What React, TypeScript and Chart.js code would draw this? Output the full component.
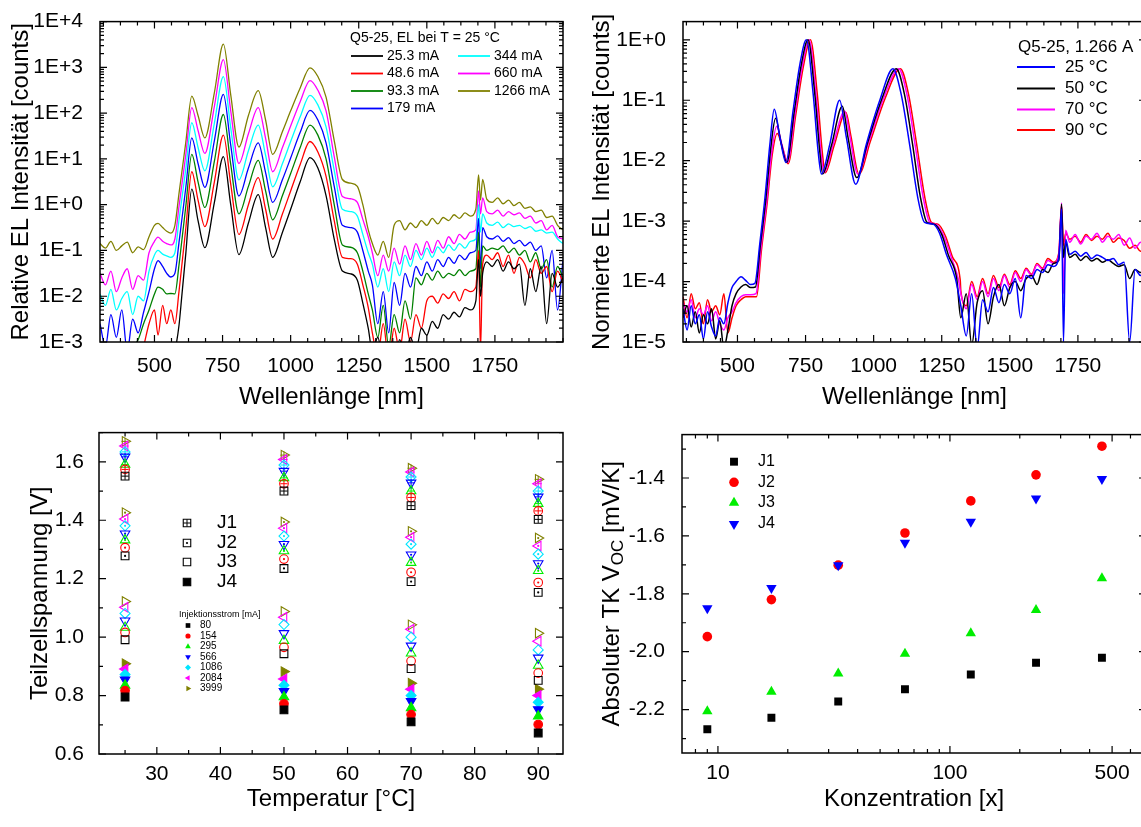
import React, { useEffect, useRef } from 'react';
import { Chart, registerables } from 'chart.js';

Chart.register(...registerables);

const FONT = '"Liberation Sans", Arial, Helvetica, sans-serif';
Chart.defaults.font.family = FONT;
Chart.defaults.color = '#000';

// ================= Top-left: relative EL spectra at 25 °C (log10 of intensity) =================
const TL_WL = [300, 320, 340, 360, 380, 400, 420, 440, 460, 480, 500, 513, 530, 545, 560, 575,
  590, 600, 615, 637, 660, 685, 720, 753, 780, 810, 845, 881, 908, 934, 970, 1000, 1035, 1071, 1100, 1130, 1160, 1190, 1220, 1245, 1265, 1285,
  1300, 1320, 1340, 1360, 1380, 1400, 1420, 1440, 1460, 1480, 1500, 1520, 1540, 1560, 1580, 1600, 1620, 1640, 1660, 1680, 1690, 1697, 1705,
  1720, 1740, 1760, 1780, 1800, 1820, 1840, 1860, 1880, 1900, 1920, 1940, 1960, 1980, 2000];

const TL_LOG_25_3 = [-3.5, -3.5, -3.5, -3.5, -3.5, -3.5, -3.5, -3.5, -3.5, -3.5, -3.5, -3.5, -3.5, -3.5, -3.5, -3.2,
  -2.64, -2.02, -1.07, 0.34, -0.35, -0.94, 0.05, 1.05, 0.0, -1.09, -0.4, 0.22, -0.5, -1.15, -0.6, -0.1, 0.5, 1.03, 0.8, 0.2, -0.75, -1.45, -1.51, -1.65, -2.15, -2.7,
  -3.2, -2.9, -3.4, -3.0, -3.5, -2.95, -3.3, -2.9, -3.2, -2.7, -2.85, -2.55, -2.7, -2.4, -2.5, -2.35, -2.45, -2.25, -2.3, -2.1, -1.2, -2.0, -1.5,
  -1.25, -1.35, -1.2, -1.45, -1.25, -1.4, -1.3, -2.2, -1.4, -1.9, -1.35, -2.6, -1.5, -1.8, -1.6];
const TL_LOG_48_6 = [-3.5, -3.5, -3.5, -3.5, -3.5, -3.5, -3.5, -3.5, -3.1, -2.6, -2.3, -2.85, -2.2, -2.6, -2.3, -2.6,
  -1.9, -1.35, -0.52, 0.72, 0.1, -0.48, 0.5, 1.52, 0.45, -0.65, 0.0, 0.59, -0.1, -0.75, -0.2, 0.3, 0.88, 1.38, 1.15, 0.62, -0.35, -1.15, -1.18, -1.3, -1.75, -2.25,
  -2.8, -3.3, -2.6, -3.4, -2.7, -3.2, -2.5, -3.0, -2.4, -2.7, -2.1, -2.0, -2.15, -1.95, -2.05, -1.9, -2.1, -1.85, -1.9, -1.8, -1.0, -3.2, -1.3,
  -1.1, -1.2, -1.05, -1.35, -1.1, -1.5, -1.15, -1.3, -1.6, -1.2, -1.5, -1.35, -1.9, -1.45, -1.7];
const TL_LOG_93_3 = [-3.5, -3.4, -3.3, -3.5, -3.2, -3.4, -3.1, -2.95, -2.6, -2.3, -1.95, -1.8, -1.85, -1.95, -1.94, -1.95,
  -1.32, -0.81, -0.04, 1.1, 0.5, -0.06, 0.95, 1.97, 0.88, -0.2, 0.4, 0.97, 0.3, -0.33, 0.2, 0.68, 1.25, 1.74, 1.52, 1.0, 0.0, -0.88, -0.93, -1.05, -1.45, -1.95,
  -2.3, -2.9, -2.2, -3.1, -2.4, -2.8, -2.1, -2.5, -1.6, -1.75, -1.5, -1.65, -1.45, -1.6, -1.5, -1.55, -1.42, -1.55, -1.45, -1.4, -0.6, -1.8, -0.9,
  -1.0, -0.95, -0.98, -0.9, -1.05, -0.95, -1.1, -1.0, -1.25, -1.05, -1.4, -1.2, -1.8, -1.35, -1.6];
const TL_LOG_179 = [-2.6, -3.1, -2.4, -2.9, -2.3, -3.2, -2.5, -2.8, -2.35, -1.9, -1.4, -1.22, -1.35, -1.5, -1.58, -1.5,
  -0.83, -0.35, 0.37, 1.46, 0.9, 0.38, 1.4, 2.41, 1.3, 0.19, 0.8, 1.35, 0.7, 0.05, 0.55, 1.02, 1.58, 2.06, 1.85, 1.35, 0.4, -0.45, -0.5, -0.6, -1.0, -1.45,
  -1.75, -2.6, -1.9, -2.8, -1.7, -2.2, -1.5, -1.8, -1.35, -1.55, -1.25, -1.45, -1.2, -1.35, -1.15, -1.28, -1.1, -1.2, -1.05, -1.0, -0.3, -1.4, -0.5,
  -0.7, -0.75, -0.68, -0.8, -0.72, -0.85, -0.78, -0.9, -0.82, -1.0, -0.9, -1.6, -1.0, -2.3, -1.2];
const TL_LOG_344 = [-1.95, -2.2, -1.85, -2.3, -2.05, -1.9, -2.4, -2.0, -2.1, -1.45, -1.1, -1.0, -1.08, -1.12, -1.15, -1.05,
  -0.34, 0.11, 0.78, 1.79, 1.25, 0.74, 1.78, 2.8, 1.68, 0.54, 1.18, 1.74, 1.08, 0.39, 0.9, 1.38, 1.92, 2.39, 2.18, 1.7, 0.75, -0.1, -0.15, -0.25, -0.65, -1.05,
  -1.3, -1.8, -1.4, -1.9, -1.25, -1.55, -1.1, -1.35, -1.0, -1.2, -0.95, -1.15, -0.92, -1.05, -0.88, -1.0, -0.85, -0.95, -0.8, -0.75, 0.0, -0.6, -0.2,
  -0.4, -0.45, -0.38, -0.5, -0.42, -0.48, -0.45, -0.52, -0.48, -0.58, -0.55, -0.62, -0.6, -0.75, -0.85];
const TL_LOG_660 = [-1.5, -1.75, -1.45, -1.9, -1.6, -1.4, -1.85, -1.55, -1.65, -1.05, -0.8, -0.71, -0.8, -0.85, -0.88, -0.75,
  -0.04, 0.41, 1.09, 2.12, 1.62, 1.12, 2.15, 3.17, 2.05, 0.9, 1.55, 2.12, 1.45, 0.72, 1.25, 1.72, 2.25, 2.71, 2.5, 2.05, 1.05, 0.18, 0.13, 0.05, -0.32, -0.7,
  -1.05, -1.55, -1.1, -1.45, -0.95, -1.3, -0.9, -1.2, -0.85, -1.1, -0.8, -1.05, -0.78, -0.95, -0.7, -0.85, -0.65, -0.75, -0.6, -0.55, 0.3, -0.2, 0.15,
  -0.15, -0.2, -0.12, -0.25, -0.15, -0.22, -0.18, -0.3, -0.25, -0.4, -0.35, -0.55, -0.45, -0.7, -0.75];
const TL_LOG_1266 = [-0.85, -0.95, -0.8, -1.0, -0.9, -0.82, -1.05, -0.92, -0.98, -0.7, -0.45, -0.41, -0.5, -0.58, -0.62, -0.45,
  0.24, 0.69, 1.36, 2.37, 1.95, 1.46, 2.45, 3.51, 2.4, 1.26, 1.95, 2.49, 1.85, 1.1, 1.6, 2.05, 2.55, 2.99, 2.8, 2.35, 1.4, 0.55, 0.47, 0.4, 0.0, -0.55,
  -0.85, -1.1, -0.8, -1.15, -0.45, -0.35, -0.55, -0.4, -0.5, -0.35, -0.45, -0.3, -0.42, -0.28, -0.35, -0.22, -0.3, -0.18, -0.25, -0.1, 0.65, 0.1, 0.55,
  0.12, 0.05, 0.15, 0.02, 0.1, -0.02, 0.05, -0.08, -0.05, -0.15, -0.12, -0.28, -0.25, -0.45, -0.55];

const TL_LABELS = ['25.3 mA', '48.6 mA', '93.3 mA', '179 mA', '344 mA', '660 mA', '1266 mA'];
const TL_COLORS = ['#000000', '#ff0000', '#008000', '#0000ff', '#00ffff', '#ff00ff', '#808000'];
const TL_SERIES = [TL_LOG_25_3, TL_LOG_48_6, TL_LOG_93_3, TL_LOG_179, TL_LOG_344, TL_LOG_660, TL_LOG_1266];

// ================= Top-right: normalised EL spectra at 1.266 A (log10) =================
const TR_WL_LEFT = [300, 315, 330, 345, 360, 375, 390, 405, 420, 435, 450, 465, 480, 495, 513, 530, 548];
const TR_WL_RIGHT = [1320, 1340, 1360, 1380, 1400, 1420, 1440, 1460, 1480, 1500, 1520, 1540, 1560, 1580, 1600, 1620, 1640, 1660, 1680,
  1690, 1697, 1705, 1720, 1740, 1760, 1780, 1800, 1820, 1840, 1860, 1880, 1900, 1920, 1940, 1960, 1980, 2000];

const TR_WL_25 = [564, 582, 601, 619, 635, 656, 678, 704, 729, 753, 778, 796, 808, 839, 875, 900, 934, 973, 1022, 1071, 1101, 1132, 1162, 1187, 1218, 1242, 1267, 1300];
const TR_WL_50 = [566, 584, 604, 622, 640, 660, 681, 708, 734, 759, 784, 802, 813, 845, 885, 906, 938, 978, 1030, 1083, 1113, 1143, 1172, 1196, 1222, 1250, 1275, 1305];
const TR_WL_70 = [568, 586, 607, 625, 644, 664, 684, 711, 738, 763, 788, 806, 818, 850, 894, 912, 942, 983, 1037, 1092, 1122, 1152, 1182, 1206, 1228, 1258, 1285, 1312];
const TR_WL_90 = [570, 588, 609, 627, 646, 666, 686, 714, 742, 768, 793, 811, 822, 855, 898, 916, 946, 988, 1043, 1098, 1128, 1158, 1188, 1212, 1236, 1264, 1290, 1318];

const TR_MID_25 = [-4.03, -3.37, -2.61, -1.73, -1.15, -1.62, -2.03, -1.18, -0.41, 0.0, -0.9, -1.84, -2.22, -1.73, -1.0, -1.62, -2.39, -1.73, -1.01, -0.48, -0.9, -1.73, -2.61, -3.02, -3.05, -3.2, -3.55, -3.95];
const TR_MID_50 = [-4.09, -3.4, -2.64, -1.8, -1.3, -1.7, -2.03, -1.2, -0.42, 0.0, -0.9, -1.84, -2.22, -1.75, -1.1, -1.62, -2.28, -1.7, -0.98, -0.48, -0.9, -1.73, -2.61, -3.02, -3.05, -3.22, -3.57, -3.95];
const TR_MID_70 = [-4.2, -3.45, -2.68, -1.88, -1.43, -1.75, -2.03, -1.22, -0.43, 0.0, -0.9, -1.84, -2.2, -1.75, -1.18, -1.58, -2.22, -1.68, -0.96, -0.48, -0.9, -1.73, -2.61, -3.02, -3.05, -3.25, -3.6, -3.98];
const TR_MID_90 = [-4.25, -3.48, -2.7, -1.92, -1.55, -1.8, -2.05, -1.24, -0.44, 0.0, -0.9, -1.84, -2.2, -1.75, -1.2, -1.58, -2.22, -1.68, -0.96, -0.48, -0.9, -1.73, -2.61, -3.02, -3.05, -3.25, -3.6, -3.98];

const TR_LEFT_25 = [-4.45, -4.8, -4.4, -4.7, -4.55, -4.95, -4.5, -4.75, -4.9, -4.6, -4.7, -4.35, -4.1, -4.0, -3.92, -3.98, -4.05];
const TR_LEFT_50 = [-4.6, -4.4, -4.75, -4.5, -4.85, -4.55, -4.7, -4.45, -4.95, -4.65, -5.1, -4.8, -4.4, -4.2, -4.09, -4.05, -4.1];
const TR_LEFT_70 = [-4.35, -4.5, -4.3, -4.6, -4.45, -4.55, -4.4, -4.65, -4.5, -4.7, -4.8, -4.6, -4.5, -4.35, -4.25, -4.22, -4.22];
const TR_LEFT_90 = [-4.25, -4.6, -4.2, -4.45, -4.35, -4.7, -4.3, -4.5, -4.4, -4.55, -4.2, -4.85, -4.6, -4.4, -4.3, -4.25, -4.25];

const TR_RIGHT_25 = [-4.4, -4.9, -4.2, -5.1, -4.3, -4.5, -4.1, -4.35, -4.05, -4.2, -3.95, -4.6, -3.9, -3.95, -3.8, -3.85, -3.72, -3.75, -3.6,
  -2.8, -5.0, -3.3, -3.55, -3.5, -3.58, -3.52, -3.62, -3.56, -3.6, -3.65, -3.62, -3.72, -3.68, -5.0, -3.8, -3.9, -3.85];
const TR_RIGHT_50 = [-4.6, -4.2, -5.05, -4.35, -4.15, -4.7, -4.25, -4.05, -4.4, -4.1, -4.0, -4.15, -3.95, -3.9, -4.05, -3.8, -3.85, -3.7, -3.65,
  -2.72, -3.6, -3.35, -3.6, -3.55, -3.65, -3.58, -3.66, -3.62, -3.68, -3.64, -3.7, -3.75, -3.72, -3.95, -3.8, -3.85, -3.82];
const TR_RIGHT_70 = [-4.2, -4.45, -4.05, -4.3, -4.0, -4.25, -3.95, -4.15, -3.9, -4.1, -3.85, -4.0, -3.8, -3.9, -3.72, -3.8, -3.65, -3.7, -3.55,
  -2.7, -4.2, -3.15, -3.35, -3.22, -3.38, -3.25, -3.3, -3.2, -3.35, -3.25, -3.3, -3.22, -3.4, -3.28, -3.45, -3.35, -3.5];
const TR_RIGHT_90 = [-4.15, -4.4, -4.0, -4.25, -3.95, -4.2, -3.9, -4.1, -3.88, -4.05, -3.82, -3.95, -3.78, -3.88, -3.7, -3.78, -3.62, -3.68, -3.52,
  -2.75, -3.4, -3.2, -3.3, -3.25, -3.35, -3.22, -3.32, -3.25, -3.3, -3.2, -3.35, -3.28, -3.32, -3.45, -3.4, -3.5, -3.45];

const TR_LABELS = ['25 °C', '50 °C', '70 °C', '90 °C'];
const TR_COLORS = ['#0000ff', '#000000', '#ff00ff', '#ff0000'];
const TR_SERIES = [
  { wl: TR_WL_25, mid: TR_MID_25, left: TR_LEFT_25, right: TR_RIGHT_25 },
  { wl: TR_WL_50, mid: TR_MID_50, left: TR_LEFT_50, right: TR_RIGHT_50 },
  { wl: TR_WL_70, mid: TR_MID_70, left: TR_LEFT_70, right: TR_RIGHT_70 },
  { wl: TR_WL_90, mid: TR_MID_90, left: TR_LEFT_90, right: TR_RIGHT_90 },
];

// ================= Bottom-left: sub-cell voltages [V] (per current: 80,154,295,566,1086,2084,3999 mA) =================
const TEMPS = [25, 50, 70, 90];
const CURRENTS = ['80', '154', '295', '566', '1086', '2084', '3999'];
const J1_T25 = [1.551, 1.574, 1.591, 1.617, 1.634, 1.654, 1.670];
const J1_T50 = [1.500, 1.525, 1.545, 1.568, 1.589, 1.608, 1.623];
const J1_T70 = [1.450, 1.478, 1.500, 1.528, 1.548, 1.565, 1.578];
const J1_T90 = [1.403, 1.432, 1.457, 1.480, 1.500, 1.525, 1.540];
const J2_T25 = [1.278, 1.306, 1.332, 1.354, 1.381, 1.404, 1.426];
const J2_T50 = [1.235, 1.267, 1.295, 1.318, 1.346, 1.373, 1.394];
const J2_T70 = [1.190, 1.222, 1.255, 1.282, 1.318, 1.342, 1.362];
const J2_T90 = [1.153, 1.187, 1.227, 1.252, 1.284, 1.312, 1.339];
const J3_T25 = [0.991, 1.016, 1.033, 1.056, 1.081, 1.102, 1.122];
const J3_T50 = [0.943, 0.965, 0.988, 1.013, 1.043, 1.068, 1.088];
const J3_T70 = [0.892, 0.918, 0.945, 0.970, 1.000, 1.027, 1.042];
const J3_T90 = [0.852, 0.877, 0.903, 0.929, 0.956, 0.986, 1.013];
const J4_T25 = [0.795, 0.817, 0.835, 0.854, 0.872, 0.891, 0.909];
const J4_T50 = [0.751, 0.772, 0.795, 0.815, 0.835, 0.857, 0.882];
const J4_T70 = [0.710, 0.735, 0.758, 0.780, 0.800, 0.822, 0.842];
const J4_T90 = [0.672, 0.701, 0.729, 0.752, 0.777, 0.800, 0.822];
const JUNCTIONS = [
  [J1_T25, J1_T50, J1_T70, J1_T90],
  [J2_T25, J2_T50, J2_T70, J2_T90],
  [J3_T25, J3_T50, J3_T70, J3_T90],
  [J4_T25, J4_T50, J4_T70, J4_T90],
];
const BL_COLORS = ['#000000', '#ff0000', '#00ee00', '#0000ff', '#00e5ff', '#ff00ff', '#808000'];
const BL_SHAPES = [
  { s: 'rect', rot: 0, r: 5.5 },
  { s: 'circle', rot: 0, r: 4.3 },
  { s: 'triangle', rot: 0, r: 5.5 },
  { s: 'triangle', rot: 180, r: 5.5 },
  { s: 'rectRot', rot: 0, r: 5 },
  { s: 'triangle', rot: -90, r: 5.5 },
  { s: 'triangle', rot: 90, r: 5.5 },
];

// ================= Bottom-right: temperature coefficient of Voc vs concentration =================
const CONC = [9, 17, 33, 64, 123, 235, 452];
const TK_J1 = [-2.268, -2.228, -2.172, -2.130, -2.079, -2.038, -2.021];
const TK_J2 = [-1.948, -1.820, -1.701, -1.590, -1.479, -1.389, -1.290];
const TK_J3 = [-2.206, -2.138, -2.075, -2.007, -1.936, -1.856, -1.746];
const TK_J4 = [-1.850, -1.780, -1.701, -1.624, -1.551, -1.471, -1.403];

// ================= helpers =================
const pow10 = (a: number[]) => a.map((v) => Math.pow(10, v));
const xy = (xs: number[], ys: number[]) => xs.map((x, i) => ({ x, y: ys[i] }));
const logLabel = (v: number) => {
  const e = Math.round(Math.log10(v));
  return '1E' + (e >= 0 ? '+' : '') + e;
};
function steps(from: number, to: number, step: number) {
  const out: number[] = [];
  for (let i = 0; ; i++) {
    const v = +(from + i * step).toFixed(6);
    if (v > to + 1e-9) break;
    out.push(v);
  }
  return out;
}
function logMinors(min: number, max: number) {
  const out: number[] = [];
  for (let d = Math.floor(Math.log10(min)); d <= Math.ceil(Math.log10(max)); d++) {
    for (let m = 2; m <= 9; m++) {
      const v = m * Math.pow(10, d);
      if (v > min && v < max) out.push(v);
    }
  }
  return out;
}
const without = (a: number[], b: number[]) => a.filter((v) => !b.some((w) => Math.abs(w - v) < 1e-6));

const TICK_FONT = { size: 21, family: FONT };
const TITLE_FONT = { size: 24, family: FONT };

function axis(o: any) {
  return {
    type: o.type,
    min: o.min,
    max: o.max,
    bounds: 'data',
    grid: { display: false },
    border: { display: false },
    ticks: {
      autoSkip: false, maxRotation: 0, minRotation: 0, font: TICK_FONT, color: '#000', padding: o.pad,
      callback: (v: number) => o.fmt(v),
    },
    afterBuildTicks: (s: any) => { s.ticks = o.ticks.map((v: number) => ({ value: v })); },
    afterFit: (s: any) => { if (o.dir === 'x') s.height = o.size; else s.width = o.size; },
    title: o.title
      ? { display: true, text: o.title, font: TITLE_FONT, color: '#000', padding: o.dir === 'x' ? { top: 0, bottom: 0 } : { top: o.titlePad, bottom: 0 } }
      : { display: false },
  };
}

function drawMarker(ctx: any, shape: string, x: number, y: number, r: number, rot: number, stroke: string | null, fill: string | null, lw = 1.2) {
  ctx.save();
  ctx.beginPath();
  if (shape === 'rect') {
    const h = r * Math.SQRT1_2;
    ctx.rect(x - h, y - h, 2 * h, 2 * h);
  } else if (shape === 'circle') {
    ctx.arc(x, y, r, 0, Math.PI * 2);
  } else if (shape === 'triangle') {
    let a = (rot * Math.PI) / 180;
    for (let k = 0; k < 3; k++) {
      const px = x + Math.sin(a) * r, py = y - Math.cos(a) * r;
      if (k === 0) ctx.moveTo(px, py); else ctx.lineTo(px, py);
      a += (2 * Math.PI) / 3;
    }
    ctx.closePath();
  } else if (shape === 'rectRot') {
    ctx.moveTo(x - r, y); ctx.lineTo(x, y - r); ctx.lineTo(x + r, y); ctx.lineTo(x, y + r); ctx.closePath();
  }
  if (fill) { ctx.fillStyle = fill; ctx.fill(); }
  if (stroke) { ctx.lineWidth = lw; ctx.strokeStyle = stroke; ctx.stroke(); }
  ctx.restore();
}

function framePlugin(xMajor: number[], xMinor: number[], yMajor: number[], yMinor: number[], extra?: (ctx: any, chart: any) => void) {
  return {
    id: 'frameTicks',
    afterDatasetsDraw(chart: any) {
      const { ctx, chartArea: a, scales } = chart;
      const xs = scales.x, ys = scales.y;
      ctx.save();
      ctx.strokeStyle = '#000';
      ctx.lineWidth = 1.5;
      ctx.strokeRect(a.left, a.top, a.right - a.left, a.bottom - a.top);
      ctx.lineWidth = 1.2;
      ctx.beginPath();
      const doX = (vals: number[], len: number) => {
        vals.forEach((v) => {
          const p = xs.getPixelForValue(v);
          if (p < a.left - 0.5 || p > a.right + 0.5) return;
          ctx.moveTo(p, a.bottom); ctx.lineTo(p, a.bottom - len);
          ctx.moveTo(p, a.top); ctx.lineTo(p, a.top + len);
        });
      };
      const doY = (vals: number[], len: number) => {
        vals.forEach((v) => {
          const p = ys.getPixelForValue(v);
          if (p < a.top - 0.5 || p > a.bottom + 0.5) return;
          ctx.moveTo(a.left, p); ctx.lineTo(a.left + len, p);
          ctx.moveTo(a.right, p); ctx.lineTo(a.right - len, p);
        });
      };
      doX(xMajor, 7); doX(xMinor, 4); doY(yMajor, 7); doY(yMinor, 4);
      ctx.stroke();
      ctx.restore();
      if (extra) { ctx.save(); extra(ctx, chart); ctx.restore(); }
    },
  };
}

const BASE_OPTS = {
  responsive: false,
  animation: false,
  devicePixelRatio: 1,
  events: [],
};

// ================= chart factories =================
const SPEC_X_MAJOR = [500, 750, 1000, 1250, 1500, 1750];
const SPEC_X_MINOR = without(steps(312.5, 2000, 62.5), SPEC_X_MAJOR);

function makeTL() {
  const yMajor = [1e-3, 1e-2, 1e-1, 1, 10, 100, 1000, 10000];
  return {
    type: 'line',
    data: {
      datasets: TL_SERIES.map((s, i) => ({
        label: TL_LABELS[i],
        data: xy(TL_WL, pow10(s)),
        borderColor: TL_COLORS[i],
        borderWidth: 1.3,
        pointRadius: 0,
        fill: false,
        cubicInterpolationMode: 'monotone',
      })),
    },
    options: {
      ...BASE_OPTS,
      layout: { padding: { left: 0, top: 20, right: 37, bottom: 1 } },
      plugins: { legend: { display: false }, tooltip: { enabled: false } },
      scales: {
        x: axis({ type: 'linear', min: 300, max: 2000, ticks: SPEC_X_MAJOR, fmt: (v: number) => String(v), dir: 'x', size: 70, pad: 4, title: 'Wellenlänge [nm]' }),
        y: axis({ type: 'logarithmic', min: 1e-3, max: 1e4, ticks: yMajor, fmt: logLabel, dir: 'y', size: 100, pad: 9, title: 'Relative EL Intensität [counts]', titlePad: 7 }),
      },
    },
    plugins: [framePlugin(SPEC_X_MAJOR, SPEC_X_MINOR, yMajor, logMinors(1e-3, 1e4), (ctx) => {
      ctx.fillStyle = '#000';
      ctx.textBaseline = 'middle';
      ctx.font = `14px ${FONT}`;
      ctx.fillText('Q5-25, EL bei T = 25 °C', 350, 38);
      const rows = [56, 73.5, 91, 108.5];
      TL_LABELS.forEach((lab, i) => {
        const col = i < 4 ? 0 : 1;
        const y = rows[i < 4 ? i : i - 4];
        const x0 = col ? 458 : 351;
        ctx.strokeStyle = TL_COLORS[i];
        ctx.lineWidth = 1.8;
        ctx.beginPath(); ctx.moveTo(x0, y); ctx.lineTo(x0 + 32, y); ctx.stroke();
        ctx.fillStyle = '#000';
        ctx.fillText(lab, x0 + 36, y);
      });
    })],
  };
}

function makeTR() {
  const yMajor = [1e-5, 1e-4, 1e-3, 1e-2, 1e-1, 1];
  return {
    type: 'line',
    data: {
      datasets: TR_SERIES.map((s, i) => ({
        label: TR_LABELS[i],
        data: xy([...TR_WL_LEFT, ...s.wl, ...TR_WL_RIGHT], pow10([...s.left, ...s.mid, ...s.right])),
        borderColor: TR_COLORS[i],
        borderWidth: 1.5,
        pointRadius: 0,
        fill: false,
        cubicInterpolationMode: 'monotone',
      })),
    },
    options: {
      ...BASE_OPTS,
      layout: { padding: { left: 0, top: 20, right: 34, bottom: 1 } },
      plugins: { legend: { display: false }, tooltip: { enabled: false } },
      scales: {
        x: axis({ type: 'linear', min: 300, max: 2000, ticks: SPEC_X_MAJOR, fmt: (v: number) => String(v), dir: 'x', size: 70, pad: 4, title: 'Wellenlänge [nm]' }),
        y: axis({ type: 'logarithmic', min: 1e-5, max: 2, ticks: yMajor, fmt: logLabel, dir: 'y', size: 103, pad: 9, title: 'Normierte EL Intensität [counts]', titlePad: 8 }),
      },
    },
    plugins: [framePlugin(SPEC_X_MAJOR, SPEC_X_MINOR, yMajor, logMinors(1e-5, 2), (ctx) => {
      ctx.fillStyle = '#000';
      ctx.textBaseline = 'middle';
      ctx.font = `17px ${FONT}`;
      ctx.fillText('Q5-25, 1.266 A', 438, 47);
      const rows = [67, 88.5, 109.5, 130];
      TR_LABELS.forEach((lab, i) => {
        ctx.strokeStyle = TR_COLORS[i];
        ctx.lineWidth = 1.8;
        ctx.beginPath(); ctx.moveTo(437, rows[i]); ctx.lineTo(475, rows[i]); ctx.stroke();
        ctx.fillStyle = '#000';
        ctx.fillText(lab, 485, rows[i]);
      });
    })],
  };
}

function makeBL() {
  const datasets: any[] = [];
  JUNCTIONS.forEach((J, j) => {
    CURRENTS.forEach((_, c) => {
      const sh = BL_SHAPES[c];
      const data = TEMPS.map((T, ti) => ({ x: T, y: J[ti][c] }));
      datasets.push({
        label: `J${j + 1} ${CURRENTS[c]} mA`,
        data,
        pointStyle: sh.s,
        pointRotation: sh.rot,
        pointRadius: sh.r,
        borderColor: BL_COLORS[c],
        backgroundColor: j === 3 ? BL_COLORS[c] : 'rgba(0,0,0,0)',
        borderWidth: 1.1,
      });
      if (j === 0) {
        datasets.push({ label: '', data, pointStyle: 'cross', pointRadius: 3.6, borderColor: BL_COLORS[c], borderWidth: 1, backgroundColor: 'rgba(0,0,0,0)' });
      }
      if (j === 1) {
        datasets.push({ label: '', data, pointStyle: 'circle', pointRadius: 1.1, borderWidth: 0, backgroundColor: BL_COLORS[c], borderColor: BL_COLORS[c] });
      }
    });
  });
  const xMajor = [30, 40, 50, 60, 70, 80, 90];
  const yMajor = [0.6, 0.8, 1.0, 1.2, 1.4, 1.6];
  return {
    type: 'scatter',
    data: { datasets },
    options: {
      ...BASE_OPTS,
      layout: { padding: { left: 0, top: 18, right: 37, bottom: 13 } },
      plugins: { legend: { display: false }, tooltip: { enabled: false } },
      scales: {
        x: axis({ type: 'linear', min: 20.9, max: 93.9, ticks: xMajor, fmt: (v: number) => String(v), dir: 'x', size: 60, pad: 0, title: 'Temperatur [°C]' }),
        y: axis({ type: 'linear', min: 0.6, max: 1.7, ticks: yMajor, fmt: (v: number) => v.toFixed(1), dir: 'y', size: 99, pad: 7, title: 'Teilzellspannung [V]', titlePad: 26 }),
      },
    },
    plugins: [framePlugin(xMajor, without(steps(25, 90, 5), xMajor), yMajor, steps(0.7, 1.7, 0.2), (ctx) => {
      ctx.fillStyle = '#000';
      ctx.textBaseline = 'middle';
      ctx.font = `19px ${FONT}`;
      const jy = [110, 130, 149, 169];
      ['J1', 'J2', 'J3', 'J4'].forEach((lab, j) => {
        drawMarker(ctx, 'rect', 187, jy[j], 5.3, 0, '#000', j === 3 ? '#000' : null, 1.1);
        if (j === 0) {
          ctx.beginPath(); ctx.lineWidth = 1; ctx.strokeStyle = '#000';
          ctx.moveTo(183.3, jy[j]); ctx.lineTo(190.7, jy[j]); ctx.moveTo(187, jy[j] - 3.7); ctx.lineTo(187, jy[j] + 3.7); ctx.stroke();
        }
        if (j === 1) { ctx.beginPath(); ctx.fillStyle = '#000'; ctx.arc(187, jy[j], 1.1, 0, Math.PI * 2); ctx.fill(); }
        ctx.fillStyle = '#000';
        ctx.fillText(lab, 217, jy[j]);
      });
      ctx.font = `9px ${FONT}`;
      ctx.fillText('Injektionsstrom [mA]', 179, 202);
      ctx.font = `10px ${FONT}`;
      CURRENTS.forEach((lab, c) => {
        const y = 212.5 + c * 10.5;
        const sh = BL_SHAPES[c];
        drawMarker(ctx, sh.s, 188, y, sh.r * 0.6, sh.rot, null, BL_COLORS[c]);
        ctx.fillStyle = '#000';
        ctx.fillText(lab, 200, y);
      });
    })],
  };
}

function makeBR() {
  const series = [
    { lab: 'J1', d: TK_J1, style: 'rect', rot: 0, r: 5.6, col: '#000000', order: 2 },
    { lab: 'J2', d: TK_J2, style: 'circle', rot: 0, r: 4.8, col: '#ff0000', order: 3 },
    { lab: 'J3', d: TK_J3, style: 'triangle', rot: 0, r: 6, col: '#00ee00', order: 1 },
    { lab: 'J4', d: TK_J4, style: 'triangle', rot: 180, r: 6, col: '#0000ff', order: 0 },
  ];
  const xMajor = [10, 100, 500];
  const yMajor = [-2.2, -2.0, -1.8, -1.6, -1.4];
  return {
    type: 'scatter',
    data: {
      datasets: series.map((s) => ({
        label: s.lab,
        data: xy(CONC, s.d),
        pointStyle: s.style,
        pointRotation: s.rot,
        pointRadius: s.r,
        backgroundColor: s.col,
        borderColor: s.col,
        borderWidth: 0,
        order: s.order,
      })),
    },
    options: {
      ...BASE_OPTS,
      layout: { padding: { left: 0, top: 17, right: 34, bottom: 13 } },
      plugins: { legend: { display: false }, tooltip: { enabled: false } },
      scales: {
        x: axis({ type: 'logarithmic', min: 7, max: 700, ticks: xMajor, fmt: (v: number) => String(Math.round(v)), dir: 'x', size: 61, pad: 0, title: 'Konzentration [x]' }),
        y: axis({ type: 'linear', min: -2.35, max: -1.25, ticks: yMajor, fmt: (v: number) => v.toFixed(1), dir: 'y', size: 102, pad: 9 }),
      },
    },
    plugins: [framePlugin(xMajor, without(logMinors(7, 700), xMajor), yMajor, steps(-2.3, -1.3, 0.2), (ctx, chart) => {
      const a = chart.chartArea;
      ctx.fillStyle = '#000';
      ctx.textBaseline = 'middle';
      ctx.font = `16px ${FONT}`;
      const rows = [48.7, 69.3, 89.7, 111];
      series.forEach((s, i) => {
        drawMarker(ctx, s.style, 154, rows[i], s.r, s.rot, null, s.col);
        ctx.fillStyle = '#000';
        ctx.fillText(s.lab, 178, rows[i]);
      });
      // y-axis title with subscript
      const big = `24px ${FONT}`, small = `17px ${FONT}`;
      const p1 = 'Absoluter TK V', p2 = 'OC', p3 = ' [mV/K]';
      ctx.font = big; const w1 = ctx.measureText(p1).width; const w3 = ctx.measureText(p3).width;
      ctx.font = small; const w2 = ctx.measureText(p2).width;
      const total = w1 + w2 + w3;
      ctx.translate(32, (a.top + a.bottom) / 2);
      ctx.rotate(-Math.PI / 2);
      ctx.textAlign = 'left';
      ctx.font = big; ctx.fillText(p1, -total / 2, 0);
      ctx.font = small; ctx.fillText(p2, -total / 2 + w1, 6);
      ctx.font = big; ctx.fillText(p3, -total / 2 + w1 + w2, 0);
    })],
  };
}

function ChartCanvas({ left, top, width, height, make }: any) {
  const ref = useRef<HTMLCanvasElement>(null);
  useEffect(() => {
    const chart = new Chart(ref.current as HTMLCanvasElement, make());
    return () => chart.destroy();
  }, []);
  return <canvas ref={ref} width={width} height={height} style={{ position: 'absolute', left, top, width, height }} />;
}

export default function App() {
  return (
    <div style={{ position: 'fixed', left: 0, top: 0, width: 1141, height: 827, overflow: 'hidden', background: '#fff' }}>
      <ChartCanvas left={0} top={0} width={600} height={413} make={makeTL} />
      <ChartCanvas left={580} top={0} width={600} height={413} make={makeTR} />
      <ChartCanvas left={0} top={413} width={600} height={414} make={makeBL} />
      <ChartCanvas left={580} top={413} width={600} height={414} make={makeBR} />
    </div>
  );
}
